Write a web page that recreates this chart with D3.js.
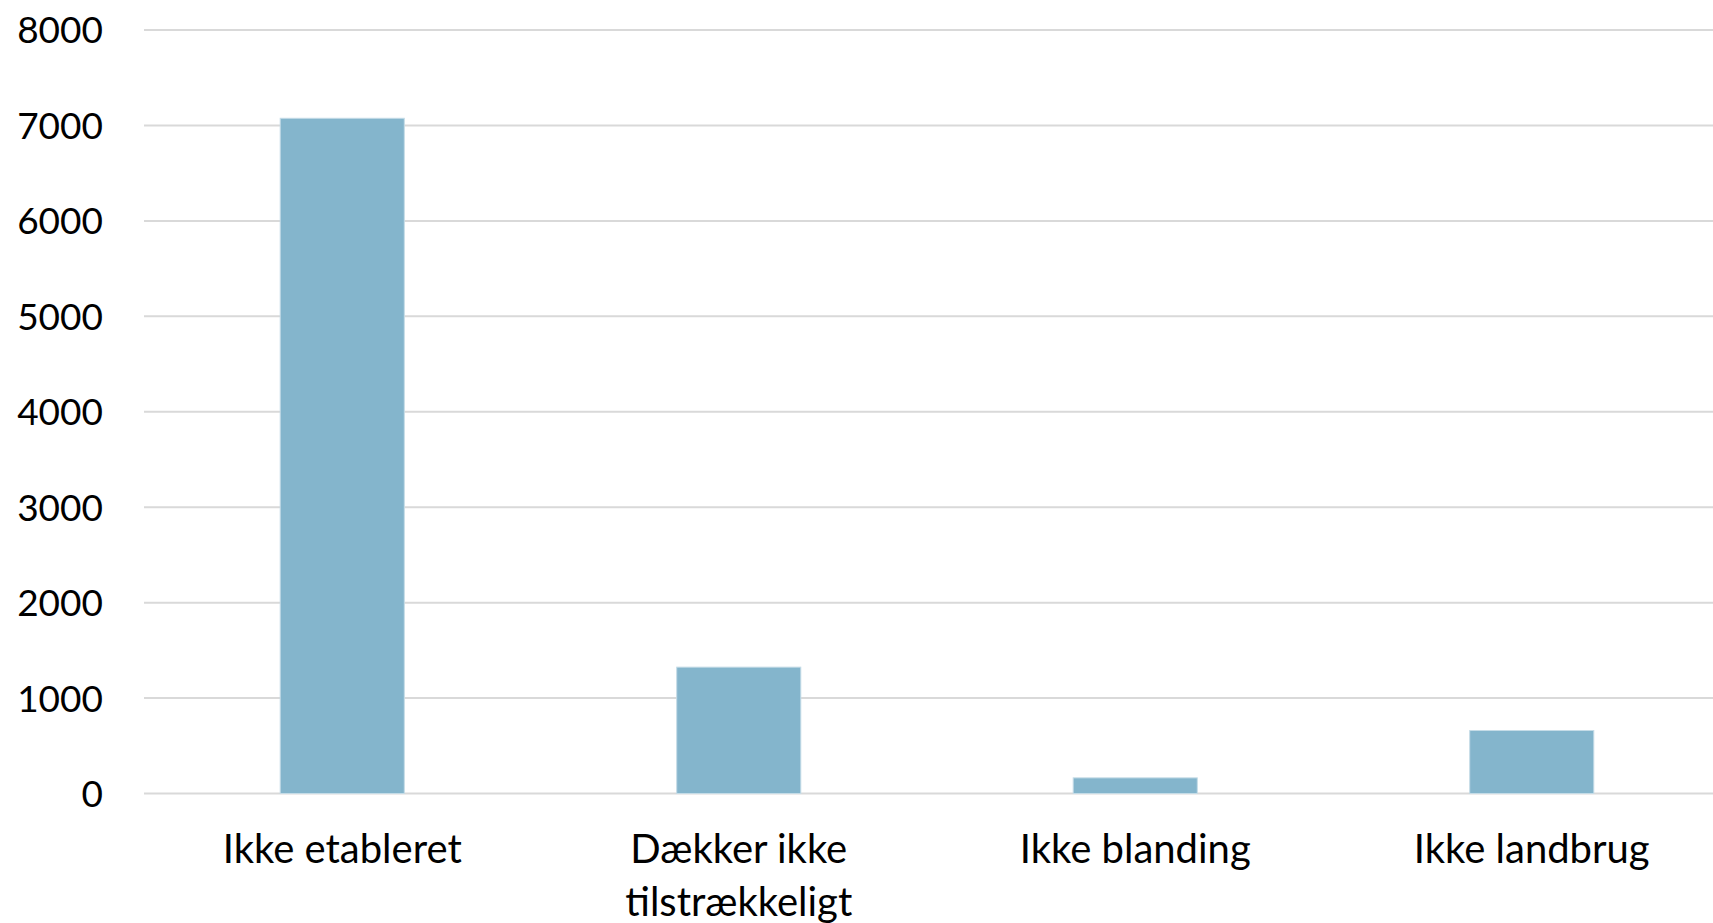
<!DOCTYPE html>
<html>
<head>
<meta charset="utf-8">
<script src="https://cdn.jsdelivr.net/npm/d3@7"></script>
<style>
  html, body { margin: 0; padding: 0; background: #fff; }
  svg { display: block; }
</style>
</head>
<body>
<svg id="chart" width="1713" height="923"></svg>
<script>
const categories = ["Ikke etableret", "Dækker ikke\ntilstrækkeligt", "Ikke blanding", "Ikke landbrug"];
const values = [7075, 1324, 164, 660];
const yTicks = [0, 1000, 2000, 3000, 4000, 5000, 6000, 7000, 8000];

const W = 1713, H = 923;
const svg = d3.select("#chart");
const fontFamily = "Lato, 'Open Sans', sans-serif";

const x = d3.scaleBand()
  .domain(categories)
  .range([144, 1730])
  .paddingInner(0.687)
  .paddingOuter(0.3435);

const y = d3.scaleLinear()
  .domain([0, 8000])
  .range([793.5, 30]);

// gridlines
svg.append("g")
  .selectAll("line")
  .data(yTicks)
  .join("line")
  .attr("x1", 144)
  .attr("x2", W)
  .attr("y1", d => y(d))
  .attr("y2", d => y(d))
  .attr("stroke", "#d9d9d9")
  .attr("stroke-width", 2);

// y axis labels
const yAxis = d3.axisLeft(y).tickValues(yTicks).tickSize(0).tickPadding(0).tickFormat(d3.format("d"));
const gy = svg.append("g").attr("transform", "translate(103,0)").call(yAxis);
gy.select(".domain").remove();
gy.selectAll("text")
  .attr("font-family", fontFamily)
  .attr("font-size", 37)
  .attr("fill", "#000")
  .attr("dy", "0.35em");

// bars
svg.append("g")
  .selectAll("rect")
  .data(values)
  .join("rect")
  .attr("x", (d, i) => x(categories[i]))
  .attr("width", x.bandwidth())
  .attr("y", d => y(d))
  .attr("height", d => y(0) - y(d))
  .attr("fill", "#84b5cc")
  .attr("stroke", "#c5dce7")
  .attr("stroke-width", 1);

// x labels
const gx = svg.append("g");
categories.forEach(c => {
  const lines = c.split("\n");
  const cx = x(c) + x.bandwidth() / 2;
  const t = gx.append("text")
    .attr("x", cx)
    .attr("y", 863)
    .attr("text-anchor", "middle")
    .attr("font-family", fontFamily)
    .attr("font-size", 40)
    .attr("fill", "#000");
  lines.forEach((l, i) => {
    t.append("tspan")
      .attr("x", cx)
      .attr("y", 863 + i * 52.5)
      .text(l);
  });
});
</script>
</body>
</html>
